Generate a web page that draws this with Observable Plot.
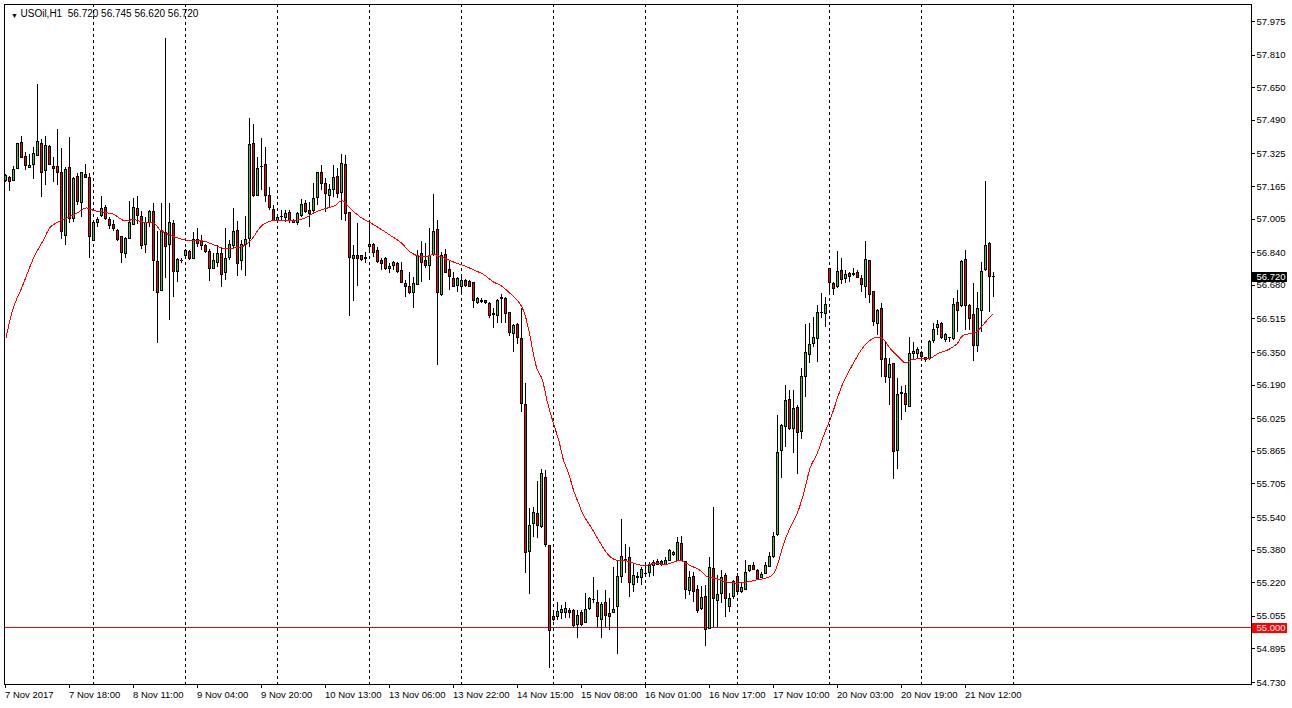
<!DOCTYPE html>
<html>
<head>
<meta charset="utf-8">
<script src="https://cdn.jsdelivr.net/npm/d3@7"></script>
<script src="https://cdn.jsdelivr.net/npm/@observablehq/plot@0.6"></script>
<style>
html, body { margin: 0; padding: 0; background: #fff; }
#chart svg { display: block; shape-rendering: crispEdges; }
#chart g[aria-label^="x-axis"] text { text-anchor: start; }
</style>
</head>
<body>
<div id="chart"></div>
<script>
const symbol = "USOil";
const timeframe = "H1";

const opens = [
57.191,57.209,57.191,57.250,57.380,57.309,57.257,57.270,57.316,57.375,
57.242,57.360,57.263,57.263,57.232,56.923,57.254,57.006,57.214,57.085,
57.222,57.209,56.897,56.987,57.020,57.060,57.003,56.977,56.948,56.915,
56.835,56.908,56.977,57.056,57.015,56.879,56.988,57.042,56.795,56.653,
56.939,56.877,56.982,56.745,56.799,56.823,56.844,56.810,56.900,56.897,
56.874,56.844,56.761,56.789,56.835,56.740,56.813,56.872,56.946,56.797,
56.879,56.908,57.375,57.119,57.263,57.273,57.119,57.051,56.995,57.015,
57.011,57.036,56.998,56.985,57.018,57.077,57.044,57.047,57.110,57.231,
57.175,57.119,57.150,57.211,57.132,57.273,57.034,56.808,56.822,56.822,
56.815,56.867,56.876,56.848,56.797,56.810,56.761,56.776,56.786,56.750,
56.684,56.671,56.642,56.682,56.835,56.797,56.774,56.831,56.952,56.630,
56.831,56.753,56.712,56.679,56.674,56.700,56.696,56.692,56.592,56.605,
56.601,56.589,56.540,56.527,56.615,56.614,56.545,56.439,56.483,56.417,
56.093,55.373,55.506,55.558,55.493,55.735,55.399,55.051,55.051,55.070,
55.072,55.080,55.080,55.013,55.072,55.021,55.092,55.133,55.121,55.035,
55.121,55.064,55.070,55.103,55.250,55.329,55.342,55.211,55.242,55.244,
55.264,55.268,55.304,55.324,55.321,55.309,55.329,55.354,55.329,55.411,
55.321,55.178,55.250,55.182,55.092,55.152,54.994,55.288,55.129,55.165,
55.252,55.103,55.152,55.250,55.174,55.185,55.277,55.300,55.277,55.242,
55.264,55.296,55.345,55.455,55.866,55.984,56.118,55.975,56.078,55.962,
56.229,56.340,56.393,56.417,56.543,56.540,56.758,56.687,56.674,56.749,
56.712,56.736,56.735,56.741,56.712,56.674,56.797,56.646,56.491,56.564,
56.316,56.226,56.294,55.869,56.150,56.147,56.085,56.344,56.344,56.347,
56.322,56.316,56.409,56.470,56.491,56.412,56.419,56.414,56.594,56.576,
56.805,56.578,56.532,56.380,56.556,56.753,56.884,56.720
];
const highs = [
57.222,57.214,57.263,57.378,57.411,57.332,57.322,57.355,57.666,57.398,
57.411,57.366,57.309,57.445,57.353,57.260,57.404,57.211,57.227,57.236,
57.272,57.227,56.987,57.015,57.116,57.072,57.015,56.998,56.952,56.920,
56.915,57.090,57.105,57.118,57.042,57.015,57.047,57.080,56.943,57.080,
57.890,57.080,56.998,56.810,56.810,56.854,56.851,56.941,56.957,56.925,
56.879,56.854,56.838,56.876,56.859,56.957,56.900,57.056,56.995,56.900,
57.018,57.497,57.470,57.309,57.399,57.355,57.162,57.072,57.011,57.047,
57.047,57.047,57.002,57.036,57.100,57.096,57.088,57.181,57.236,57.268,
57.203,57.175,57.268,57.252,57.322,57.317,57.039,56.876,56.982,56.826,
56.843,56.982,56.884,56.867,56.810,56.815,56.786,56.799,56.794,56.794,
56.704,56.745,56.720,56.851,56.897,56.884,56.957,57.126,56.998,56.843,
56.854,56.802,56.745,56.720,56.720,56.707,56.704,56.696,56.622,56.614,
56.605,56.597,56.565,56.610,56.635,56.622,56.548,56.488,56.494,56.564,
56.196,55.583,55.591,55.717,55.774,55.771,55.403,55.075,55.121,55.108,
55.124,55.095,55.087,55.084,55.084,55.165,55.149,55.247,55.182,55.124,
55.182,55.141,55.296,55.329,55.530,55.406,55.395,55.313,55.272,55.293,
55.300,55.321,55.329,55.332,55.329,55.345,55.381,55.375,55.444,55.447,
55.326,55.277,55.272,55.206,55.201,55.206,55.345,55.588,55.255,55.280,
55.264,55.165,55.231,55.264,55.215,55.329,55.304,55.321,55.283,55.272,
55.321,55.370,55.468,56.041,55.995,56.188,56.164,56.164,56.090,56.270,
56.486,56.491,56.524,56.581,56.641,56.622,56.761,56.692,56.846,56.810,
56.753,56.741,56.761,56.753,56.728,56.897,56.802,56.650,56.560,56.589,
56.404,56.322,56.294,56.221,56.183,56.188,56.422,56.398,56.376,56.355,
56.327,56.409,56.491,56.507,56.499,56.442,56.425,56.614,56.654,56.802,
56.851,56.584,56.687,56.646,56.794,57.190,56.892,56.745
];
const lows = [
57.186,57.142,57.188,57.247,57.306,57.242,57.255,57.201,57.312,57.113,
57.168,57.267,57.186,57.168,56.903,56.877,56.982,56.990,57.072,57.015,
57.206,56.813,56.897,56.966,57.015,56.998,56.956,56.943,56.894,56.786,
56.812,56.903,56.974,56.977,56.856,56.838,56.962,56.651,56.393,56.653,
56.712,56.507,56.619,56.696,56.786,56.823,56.802,56.807,56.867,56.851,
56.838,56.700,56.758,56.769,56.668,56.704,56.802,56.859,56.725,56.753,
56.725,56.867,57.113,57.116,57.146,57.088,57.047,56.995,56.992,56.998,
56.990,56.982,56.985,56.974,57.015,57.031,56.966,57.039,57.072,57.146,
57.039,57.056,57.113,57.105,56.998,56.995,56.529,56.601,56.674,56.799,
56.789,56.851,56.818,56.786,56.753,56.753,56.736,56.753,56.740,56.687,
56.619,56.635,56.565,56.679,56.696,56.761,56.704,56.822,56.286,56.625,
56.736,56.655,56.668,56.646,56.646,56.671,56.668,56.565,56.586,56.589,
56.586,56.516,56.466,56.491,56.494,56.494,56.429,56.352,56.389,56.057,
55.264,55.162,55.444,55.435,55.485,55.395,54.800,55.031,55.035,55.038,
55.046,55.043,55.002,54.948,55.005,55.018,55.084,55.116,55.002,54.944,
55.002,54.985,55.067,54.866,55.214,55.264,55.149,55.174,55.214,55.206,
55.247,55.247,55.250,55.304,55.300,55.304,55.326,55.349,55.326,55.326,
55.136,55.157,55.124,55.067,55.084,54.907,54.994,55.002,55.002,55.116,
55.051,55.075,55.136,55.157,55.165,55.182,55.272,55.280,55.236,55.239,
55.260,55.293,55.337,55.447,55.730,55.885,55.967,55.856,55.750,55.921,
56.131,56.294,56.376,56.303,56.515,56.474,56.630,56.630,56.663,56.682,
56.687,56.695,56.725,56.712,56.643,56.614,56.589,56.479,56.434,56.229,
56.196,56.090,55.727,55.776,56.016,56.054,56.085,56.311,56.314,56.311,
56.299,56.311,56.393,56.434,56.414,56.401,56.401,56.409,56.450,56.573,
56.458,56.458,56.306,56.352,56.450,56.748,56.548,56.620
];
const closes = [
57.216,57.186,57.247,57.375,57.306,57.267,57.268,57.326,57.384,57.231,
57.365,57.270,57.250,57.231,56.941,57.247,57.006,57.204,57.087,57.229,
57.206,56.916,56.987,57.003,57.056,57.005,56.972,56.954,56.900,56.838,
56.908,56.987,57.060,57.021,56.874,56.988,57.038,56.800,56.643,56.948,
56.867,56.985,56.745,56.802,56.797,56.849,56.810,56.903,56.884,56.874,
56.844,56.761,56.799,56.835,56.732,56.807,56.879,56.943,56.786,56.879,
56.903,57.371,57.116,57.252,57.262,57.116,57.060,56.998,57.011,57.013,
57.031,56.998,56.988,57.028,57.072,57.039,57.031,57.105,57.231,57.175,
57.129,57.146,57.208,57.129,57.276,57.031,56.815,56.822,56.810,56.802,
56.808,56.880,56.838,56.794,56.784,56.761,56.772,56.790,56.745,56.691,
56.671,56.642,56.687,56.826,56.789,56.774,56.826,56.944,56.642,56.822,
56.740,56.720,56.671,56.712,56.699,56.676,56.671,56.605,56.614,56.596,
56.591,56.529,56.535,56.605,56.620,56.540,56.445,56.478,56.422,56.098,
55.367,55.498,55.563,55.499,55.755,55.406,54.985,55.038,55.075,55.084,
55.092,55.070,55.007,55.059,55.013,55.087,55.141,55.136,55.051,55.113,
55.059,55.054,55.084,55.250,55.345,55.332,55.219,55.255,55.247,55.283,
55.265,55.301,55.318,55.309,55.309,55.329,55.378,55.367,55.416,55.329,
55.185,55.244,55.174,55.080,55.146,54.990,55.293,55.141,55.162,55.244,
55.141,55.141,55.223,55.174,55.195,55.268,55.301,55.283,55.239,55.260,
55.301,55.345,55.444,55.858,55.988,56.114,55.975,56.074,55.956,56.229,
56.348,56.389,56.422,56.545,56.545,56.584,56.692,56.663,56.744,56.704,
56.731,56.720,56.733,56.717,56.682,56.805,56.633,56.502,56.556,56.311,
56.229,56.291,55.864,56.142,56.147,56.093,56.344,56.355,56.360,56.327,
56.311,56.404,56.461,56.483,56.420,56.434,56.422,56.584,56.556,56.794,
56.576,56.515,56.384,56.564,56.744,56.875,56.720,56.720
];

// Moving average (red line), read at bar positions
const maBars = [0,1.9,4,7,9.4,11.1,13.2,15.25,17.75,20,22,24.4,27,29.4,32,34.4,37,38.5,40,42.3,44.8,47.3,49.4,52.3,54.8,57.3,59.8,61.5,64,66.5,69,72.3,74.8,77.3,79.8,82.3,84,86.1,88.6,91.1,93.6,96.1,98.6,101.1,102.75,105.25,106.9,109.4,111.9,114.4,116.9,119.4,121.9,123.6,125.7,128.2,129.4,130.7,132.75,134,135.25,136.9,138.2,139.4,140.7,141.9,143.2,144.4,146.5,148.2,150.7,152.3,154.8,157.3,159.8,162.3,164.8,166.1,168.6,171.1,173.6,175.25,177.75,180.25,182.75,185.25,187.75,190.25,191.9,193.2,194.4,196.1,197.75,199.4,201.1,202.75,204.6,206.3,209,211.5,214,215.7,217.75,219.4,221.1,223.2,224.8,226.5,229,231.1,233.2,235.7,237.75,239,240.7,242.3,244,245.7,246.75];
const maValues = [56.422,56.573,56.671,56.818,56.904,56.966,56.993,57.011,57.034,57.060,57.047,57.039,57.028,56.998,57.002,56.990,56.985,56.952,56.935,56.916,56.903,56.900,56.897,56.876,56.859,56.864,56.876,56.908,56.974,56.998,56.998,56.998,57.011,57.039,57.056,57.072,57.096,57.056,57.015,56.987,56.957,56.925,56.892,56.843,56.826,56.822,56.831,56.815,56.794,56.777,56.756,56.733,56.696,56.680,56.646,56.597,56.556,56.458,56.270,56.221,56.114,56.000,55.918,55.820,55.754,55.673,55.607,55.550,55.485,55.427,55.354,55.332,55.329,55.313,55.304,55.316,55.309,55.316,55.329,55.304,55.280,55.250,55.239,55.223,55.218,55.223,55.234,55.244,55.264,55.329,55.411,55.493,55.558,55.656,55.787,55.853,55.952,56.035,56.188,56.286,56.368,56.406,56.425,56.414,56.368,56.327,56.299,56.316,56.319,56.322,56.347,56.365,56.393,56.430,56.442,56.447,56.479,56.519,56.537];

// Axis ticks and labels
const yTicks = [57.975,57.810,57.650,57.490,57.325,57.165,57.005,56.840,56.680,56.515,56.350,56.190,56.025,55.865,55.705,55.540,55.380,55.220,55.055,54.895,54.730];
const xTicks = [0,16,32,48,64,80,96,112,128,144,160,176,192,208,224,240];
const xLabels = ["7 Nov 2017","7 Nov 18:00","8 Nov 11:00","9 Nov 04:00","9 Nov 20:00","10 Nov 13:00","13 Nov 06:00","13 Nov 22:00","14 Nov 15:00","15 Nov 08:00","16 Nov 01:00","16 Nov 17:00","17 Nov 10:00","20 Nov 03:00","20 Nov 19:00","21 Nov 12:00"];
const gridBars = [22,45,68,91,114,137,160,183,206,229,252];
const levels = [55.000];

const bullColor = "#32cd32";
const bearColor = "#ff0000";

const candles = opens.map((o, i) => ({i, open: o, high: highs[i], low: lows[i], close: closes[i]}));
const bodies = candles.filter(d => Math.abs(d.close - d.open) >= 0.004);
const ma = maBars.map((b, k) => ({b, v: maValues[k]}));
const last = candles[candles.length - 1];
const f3 = v => v.toFixed(3);
const header = `${symbol},${timeframe}\u00a0\u00a0${f3(last.open)} ${f3(last.high)} ${f3(last.low)} ${f3(last.close)}`;
const labelOf = new Map(xTicks.map((t, k) => [t, xLabels[k]]));

// x scale: 4 px per bar; one pixel = 0.25 bar
const xMin = -0.125, xMax = 311.625;
const PX = 0.25;
const ctr = i => i + PX;            // pixel-column centre of a bar
const boxX1 = 311.875, boxX2 = 320.625;

const chart = Plot.plot({
  width: 1292,
  height: 708,
  marginLeft: 4,
  marginRight: 41,
  marginTop: 4,
  marginBottom: 24,
  style: {fontFamily: "'Liberation Sans', Arial, sans-serif", fontSize: "9.5px", background: "white", color: "black", overflow: "visible"},
  x: {domain: [xMin, xMax], ticks: xTicks, tickFormat: d => labelOf.get(d), tickSize: 4, tickPadding: 3, label: null},
  y: {domain: [54.7203, 58.0585], axis: "right", ticks: yTicks, tickFormat: f3, tickSize: 3, tickPadding: 2, label: null},
  marks: [
    Plot.ruleX(gridBars, {stroke: "black", strokeDasharray: "3,3"}),
    Plot.ruleY(levels, {stroke: "red"}),
    // wicks
    Plot.rect(candles, {x1: d => ctr(d.i) - PX / 2, x2: d => ctr(d.i) + PX / 2, y1: "low", y2: "high", fill: "black"}),
    // body outlines (3 px wide, 1 px taller than the body)
    Plot.rect(candles, {x1: d => ctr(d.i) - 1.5 * PX, x2: d => ctr(d.i) + 1.5 * PX, y1: "open", y2: "close", insetTop: -0.5, insetBottom: -0.5, fill: "black"}),
    // body interiors
    Plot.rect(bodies, {x1: d => ctr(d.i) - PX / 2, x2: d => ctr(d.i) + PX / 2, y1: "open", y2: "close", insetTop: 0.5, insetBottom: 0.5,
      fill: d => d.close > d.open ? bullColor : bearColor}),
    Plot.line(ma, {x: d => ctr(d.b), y: "v", stroke: "red", strokeWidth: 1, curve: "catmull-rom"}),
    Plot.frame({stroke: "black"}),
    Plot.text(["\u25BC"], {frameAnchor: "top-left", dx: 6.5, dy: 9, fontSize: 7, fill: "black"}),
    Plot.text([header], {frameAnchor: "top-left", dx: 16, dy: 9, textAnchor: "start", lineAnchor: "middle", fontSize: 10, fill: "black"}),
    Plot.ruleY([last.close], {x1: () => boxX1, x2: () => boxX2, stroke: "black", strokeWidth: 10}),
    Plot.text([last.close], {x: () => boxX1, y: d => d, text: d => f3(d), dx: 4, textAnchor: "start", fill: "white"}),
    Plot.ruleY(levels, {x1: () => boxX1, x2: () => boxX2, stroke: "red", strokeWidth: 10}),
    Plot.text(levels, {x: () => boxX1, y: d => d, text: d => f3(d), dx: 4, textAnchor: "start", fill: "white"})
  ]
});
document.getElementById("chart").appendChild(chart);
</script>
</body>
</html>
